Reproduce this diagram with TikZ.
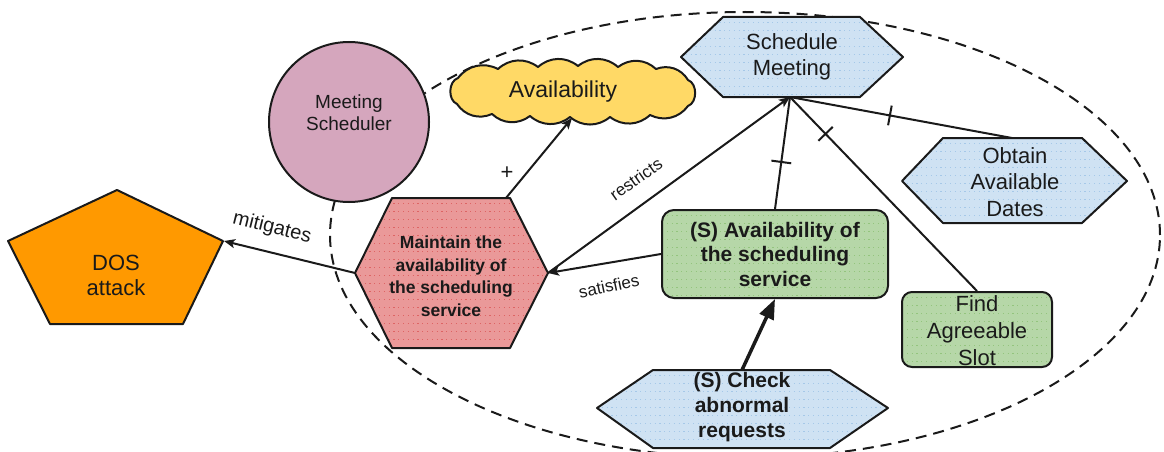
\documentclass[tikz,border=0pt]{standalone}
\usepackage{fontspec}
\setmainfont{Liberation Sans}
\usetikzlibrary{arrows.meta,decorations.markings}

\definecolor{ink}{HTML}{1A1A1A}
\definecolor{goalblue}{HTML}{CFE2F3}
\definecolor{goalbluedot}{HTML}{A5C8E8}
\definecolor{taskgreen}{HTML}{B6D7A8}
\definecolor{taskgreendot}{HTML}{93C47D}
\definecolor{threatred}{HTML}{EA9999}
\definecolor{threatreddot}{HTML}{DD6464}
\definecolor{softyellow}{HTML}{FFD966}
\definecolor{actorpink}{HTML}{D5A6BD}
\definecolor{attackorange}{HTML}{FF9900}

\tikzset{
  outline/.style={draw=ink, line width=2pt, line join=round},
  dotrows/.style={path picture={
    \foreach \k in {1,...,50}
      \draw[#1, line width=0.8pt, dash pattern=on 1.2pt off 3.6pt]
        ([yshift=-\k*8pt+3pt]path picture bounding box.north west) --
        ([yshift=-\k*8pt+3pt]path picture bounding box.north east);}},
  lbl/.style={align=center, text=ink, inner sep=0pt},
  link/.style={draw=ink, line width=2pt},
  arrowed/.style={-{Stealth[length=11pt,width=9pt,inset=2.5pt]}},
  andbar/.style={postaction={decorate, decoration={markings,
    mark=at position #1 with {\draw[ink, line width=2pt] (0pt,-10pt) -- (0pt,10pt);}}}}
}

\begin{document}
\begin{tikzpicture}[x=1pt,y=-1pt]
\useasboundingbox (0,0) rectangle (1164,452);

% system boundary of the actor
\begin{scope}
  \clip (0,0) rectangle (1164,452);
  \draw[ink, line width=2pt, dash pattern=on 11pt off 7pt]
    (745,235) ellipse [x radius=415pt, y radius=223pt];
\end{scope}

% actor
\node[outline, fill=actorpink, circle, minimum size=160pt, inner sep=0pt] (actor) at (349,122) {};
\node[lbl, font=\fontsize{19}{22}\selectfont] (actor-name) at (349,113) {Meeting\\Scheduler};

% softgoal cloud, drawn puff by puff
\path[outline, fill=softyellow]
  (458,78) to[bend left=40] (498,69) to[bend left=40] (538,67)
  to[bend left=40] (578,66) to[bend left=40] (618,67) to[bend left=40] (656,69)
  to[bend left=40] (688,80) to[bend left=70] (688,106) to[bend left=40] (650,115)
  to[bend left=40] (610,117) to[bend left=40] (570,117) to[bend left=40] (530,116)
  to[bend left=40] (492,114) to[bend left=40] (457,104) to[bend left=70] cycle;
\coordinate (avail-s) at (572,118);
\node[lbl, font=\fontsize{23}{26}\selectfont] (avail-name) at (563,92) {Availability};

% goal: Schedule Meeting
\path[outline, fill=goalblue, dotrows=goalbluedot]
  (681,57) -- (723,17) -- (860,17) -- (903,57) -- (860,97) -- (723,97) -- cycle;
\coordinate (sm) at (790,97);
\node[lbl, font=\fontsize{22}{26}\selectfont] (sm-name) at (792,57) {Schedule\\Meeting};

% goal: Obtain Available Dates
\path[outline, fill=goalblue, dotrows=goalbluedot]
  (902,181) -- (943,138) -- (1082,138) -- (1127,181) -- (1082,223) -- (943,223) -- cycle;
\coordinate (oad) at (1012,138);
\node[lbl, font=\fontsize{22}{26.5}\selectfont] (oad-name) at (1015,182) {Obtain\\Available\\Dates};

% task: Find Agreeable Slot
\node[outline, fill=taskgreen, dotrows=taskgreendot, rounded corners=10pt,
      minimum width=150pt, minimum height=75pt] (fas) at (977,329.5) {};
\node[lbl, font=\fontsize{22}{27}\selectfont] (fas-name) at (977,331) {Find\\Agreeable\\Slot};

% security task
\node[outline, fill=taskgreen, dotrows=taskgreendot, rounded corners=12pt,
      minimum width=226pt, minimum height=88pt] (sas) at (775,254) {};
\node[lbl, font=\bfseries\fontsize{21}{24.5}\selectfont] (sas-name) at (775,254)
  {(S) Availability of\\the scheduling\\service};

% security goal
\path[outline, fill=threatred, dotrows=threatreddot]
  (355,273) -- (392,198) -- (510,198) -- (548,273) -- (510,348) -- (392,348) -- cycle;
\coordinate (mas-w) at (355,273);
\coordinate (mas-e) at (548,273);
\coordinate (mas-n) at (506,198);
\node[lbl, font=\bfseries\fontsize{17.5}{22.5}\selectfont] (mas-name) at (451,276)
  {Maintain the\\availability of\\the scheduling\\service};

% security goal: Check abnormal requests
\path[outline, fill=goalblue, dotrows=goalbluedot]
  (597,408) -- (653,370) -- (830,370) -- (888,408) -- (830,448) -- (653,448) -- cycle;
\coordinate (car-n) at (742,370);
\node[lbl, font=\bfseries\fontsize{21}{25}\selectfont] (car-name) at (742,407)
  {(S) Check\\abnormal\\requests};

% attack
\path[outline, fill=attackorange]
  (117,190) -- (223,241) -- (183,324) -- (50,324) -- (8,241) -- cycle;
\coordinate (dos-e) at (224,241);
\node[lbl, font=\fontsize{22}{25}\selectfont] (dos-name) at (116,275) {DOS\\attack};

% links
\draw[link, arrowed] (mas-w) -- (dos-e);
\draw[link, arrowed] (mas-n) -- (avail-s);
\draw[link, arrowed] (mas-e) -- (sm);
\draw[link, arrowed] (sas.west) -- (mas-e);
\draw[link, andbar=0.42] (sas.north) -- (sm);
\draw[link, andbar=0.19] (sm) -- (fas.north);
\draw[link, andbar=0.45] (sm) -- (oad);
\draw[ink, line width=3.5pt, -{Triangle[length=20pt,width=15pt]}] (car-n) -- (sas.south);

% link labels
\node[lbl, font=\fontsize{22}{24}\selectfont] (plus) at (507,173) {+};
\node[lbl, font=\fontsize{20}{22}\selectfont, rotate=-14] (mitigates) at (272,228) {mitigates};
\node[lbl, font=\fontsize{17}{20}\selectfont, rotate=35] (restricts) at (636,179) {restricts};
\node[lbl, font=\fontsize{17}{20}\selectfont, rotate=12] (satisfies) at (609,286) {satisfies};

\end{tikzpicture}
\end{document}
